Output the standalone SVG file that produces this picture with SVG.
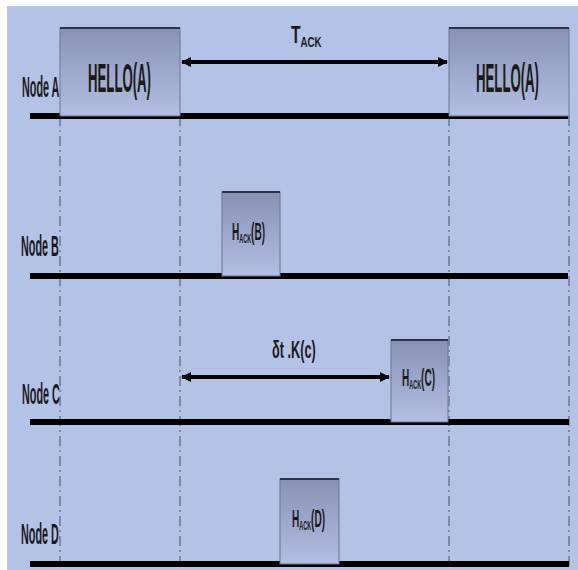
<svg xmlns="http://www.w3.org/2000/svg" width="578" height="570" viewBox="0 0 578 570">
<style>
.lbl{font-family:"Liberation Sans",Arial,sans-serif;fill:#1a1a1a;font-weight:bold;}
.node{font-family:"Liberation Sans",Arial,sans-serif;fill:#1a1a1a;font-weight:bold;}
.tl{stroke:#000;stroke-width:6;fill:none;}
.dd{stroke:#6f7790;stroke-width:1.5;stroke-dasharray:10 4 2 4;fill:none;}
.box{fill:url(#g);stroke:#6d7590;stroke-width:1;}
.top{stroke:#2d3140;stroke-width:2;}
.arr{stroke:#000;stroke-width:4;fill:none;marker-start:url(#ah);marker-end:url(#ah);}
</style>
<defs>
<linearGradient id="g" x1="0" y1="0" x2="0" y2="1">
<stop offset="0" stop-color="#8893b3"/>
<stop offset="1" stop-color="#b2bfe2"/>
</linearGradient>
<marker id="ah" viewBox="0 0 10 10" refX="9" refY="5" markerWidth="10" markerHeight="12" markerUnits="userSpaceOnUse" orient="auto-start-reverse">
<path d="M0,0 L10,5 L0,10 Z" fill="#000"/>
</marker>
</defs>
<rect x="0" y="0" width="578" height="570" fill="#ffffff"/>
<rect x="7" y="6" width="571" height="564" fill="#b3c3e6"/>

<g id="connectors">
<line class="dd" x1="60" y1="116" x2="60" y2="566"/>
<line class="dd" x1="180" y1="116" x2="180" y2="566"/>
<line class="dd" x1="449" y1="116" x2="449" y2="566"/>
<line class="dd" x1="569" y1="116" x2="569" y2="566"/>
<line class="arr" x1="182" y1="62" x2="447" y2="62"/>
<line class="arr" x1="182" y1="377" x2="389" y2="377"/>
</g>

<g id="nodeA">
<line class="tl" x1="30" y1="116" x2="568" y2="116"/>
<text class="node" font-size="30" transform="translate(22,97) scale(0.36,1)">Node A</text>
</g>
<g id="helloA1">
<rect class="box" x="60" y="28" width="120" height="88"/>
<line class="top" x1="60" y1="28" x2="180" y2="28"/>
<text class="lbl" font-size="40" transform="translate(88,92) scale(0.33,1)">HELLO(A)</text>
</g>
<g id="helloA2">
<rect class="box" x="449" y="28" width="120" height="88"/>
<line class="top" x1="449" y1="28" x2="569" y2="28"/>
<text class="lbl" font-size="40" transform="translate(476,92) scale(0.33,1)">HELLO(A)</text>
</g>
<g id="tack">
<text class="lbl" transform="translate(291,43) scale(0.65,1)"><tspan font-size="24">T</tspan><tspan font-size="15" dy="4">ACK</tspan></text>
</g>

<g id="nodeB">
<line class="tl" x1="30" y1="276" x2="568" y2="276"/>
<text class="node" font-size="30" transform="translate(21,256) scale(0.36,1)">Node B</text>
</g>
<g id="hackB">
<rect class="box" x="222" y="192" width="58" height="84"/>
<line class="top" x1="222" y1="192" x2="280" y2="192"/>
<text class="lbl" transform="translate(232,240) scale(0.42,1)"><tspan font-size="24">H</tspan><tspan font-size="13" dy="3">ACK</tspan><tspan font-size="24" dy="-3">(B)</tspan></text>
</g>

<g id="nodeC">
<line class="tl" x1="30" y1="422" x2="569" y2="422"/>
<text class="node" font-size="30" transform="translate(22,404) scale(0.36,1)">Node C</text>
</g>
<g id="hackC">
<rect class="box" x="391" y="340" width="57" height="82"/>
<line class="top" x1="391" y1="340" x2="448" y2="340"/>
<text class="lbl" transform="translate(402,386) scale(0.42,1)"><tspan font-size="24">H</tspan><tspan font-size="13" dy="3">ACK</tspan><tspan font-size="24" dy="-3">(C)</tspan></text>
</g>
<g id="dtk">
<text class="lbl" font-size="24" transform="translate(272,358) scale(0.53,1)">δt .K(c)</text>
</g>

<g id="nodeD">
<line class="tl" x1="30" y1="564" x2="569" y2="564"/>
<text class="node" font-size="30" transform="translate(21,544) scale(0.36,1)">Node D</text>
</g>
<g id="hackD">
<rect class="box" x="280" y="479" width="59" height="85"/>
<line class="top" x1="280" y1="479" x2="339" y2="479"/>
<text class="lbl" transform="translate(292,527) scale(0.42,1)"><tspan font-size="24">H</tspan><tspan font-size="13" dy="3">ACK</tspan><tspan font-size="24" dy="-3">(D)</tspan></text>
</g>
</svg>
